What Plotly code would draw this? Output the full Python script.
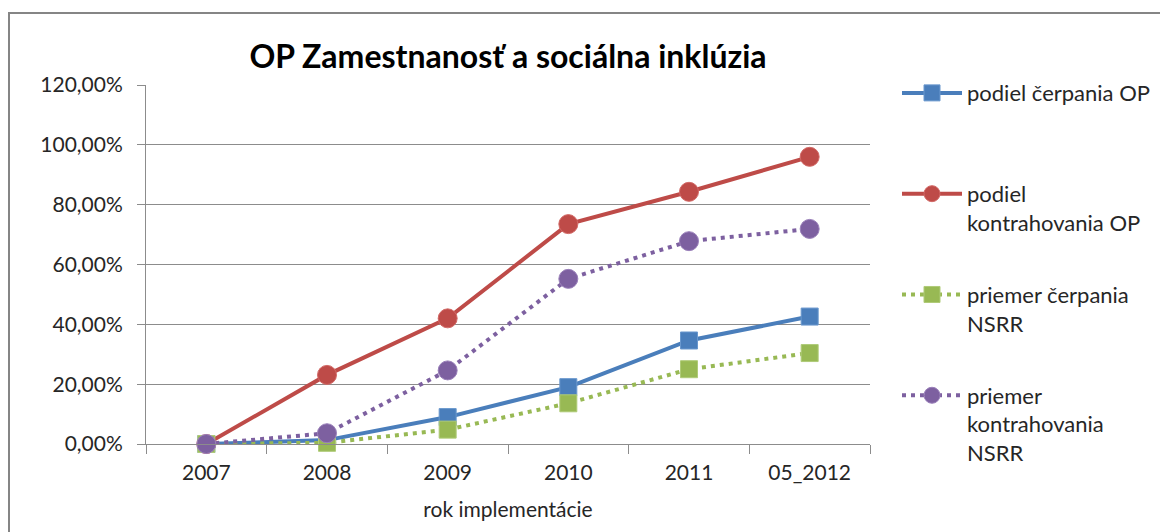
import plotly.graph_objects as go

categories = ["2007", "2008", "2009", "2010", "2011", "05_2012"]
podiel_cerpania_op = [0.0, 0.013, 0.090, 0.190, 0.346, 0.426]
podiel_kontrahovania_op = [0.0, 0.231, 0.420, 0.735, 0.843, 0.960]
priemer_cerpania_nsrr = [0.0, 0.004, 0.048, 0.136, 0.250, 0.304]
priemer_kontrahovania_nsrr = [0.0, 0.036, 0.246, 0.552, 0.678, 0.719]

names = [
    "podiel čerpania OP<br> <br> ",
    "podiel<br>kontrahovania OP<br> ",
    "priemer čerpania<br>NSRR<br> ",
    "priemer<br>kontrahovania<br>NSRR",
]
colors = ["#4A7EBB", "#BE4B48", "#98B954", "#7D60A0"]
lighter = ["#6A98CE", "#D26966", "#AFCB78", "#9A80BA"]

FONT = "Lato"
GRID = "#8C8C8C"
TXT = "#262626"

# page body has an 8px margin; plot area in figure coords
L, R, T, B = 138, 862, 77, 436
W, H = 1160, 524

fig = go.Figure()
series = [podiel_cerpania_op, podiel_kontrahovania_op, priemer_cerpania_nsrr, priemer_kontrahovania_nsrr]
symbols = ["square", "circle", "square", "circle"]
dashes = ["solid", "solid", "4px,5px", "4px,5px"]
sizes = [17, 19, 17, 19]
for i, vals in enumerate(series):
    fig.add_trace(go.Scatter(
        x=categories, y=vals, name=names[i], mode="lines+markers",
        legendgroup=f"g{i}", cliponaxis=False,
        line=dict(color=colors[i], width=4, dash=dashes[i]),
        marker=dict(symbol=symbols[i], size=sizes[i], color=colors[i],
                    line=dict(color=lighter[i], width=1)),
    ))

pw, ph = R - L, B - T
fig.update_layout(
    width=W, height=H,
    margin=dict(l=L, r=W - R, t=T, b=H - B),
    paper_bgcolor="white", plot_bgcolor="white",
    separators=", ",
    font=dict(family=FONT, size=21, color=TXT),
    title=dict(text="<b>OP Zamestnanosť a sociálna inklúzia</b>",
               x=0.5, xref="paper", xanchor="center",
               y=1 - 49 / H, yref="container", yanchor="middle",
               font=dict(family=FONT, size=32, color="#000000")),
    showlegend=True,
    legend=dict(x=(889 - L) / pw, xanchor="left", y=1.036, yanchor="top",
                valign="top", tracegroupgap=12, maxheight=1000,
                font=dict(family=FONT, size=22, color=TXT),
                bgcolor="rgba(0,0,0,0)", itemwidth=60),
    xaxis=dict(type="category", range=[-0.5, 5.5],
               showline=True, linecolor=GRID, linewidth=1,
               ticks="outside", tickson="boundaries", ticklen=9, tickcolor=GRID,
               showgrid=False, zeroline=False, ticklabelstandoff=10,
               title=dict(text="rok implementácie", standoff=19,
                          font=dict(family=FONT, size=21, color=TXT)),
               tickfont=dict(family=FONT, size=21, color=TXT)),
    yaxis=dict(range=[0, 1.2], dtick=0.2, tickformat=".2%",
               showline=True, linecolor=GRID, linewidth=1,
               ticks="outside", ticklen=8, tickcolor=GRID,
               showgrid=True, gridcolor=GRID, gridwidth=1,
               zeroline=False, ticklabelstandoff=10,
               tickfont=dict(family=FONT, size=21, color=TXT)),
    shapes=[dict(type="rect", xref="paper", yref="paper",
                 x0=(1 - L) / pw, x1=1.6, y0=-0.6, y1=(B - 5) / ph,
                 line=dict(color="#858585", width=2), layer="below")],
)

fig.write_html("out.html")
